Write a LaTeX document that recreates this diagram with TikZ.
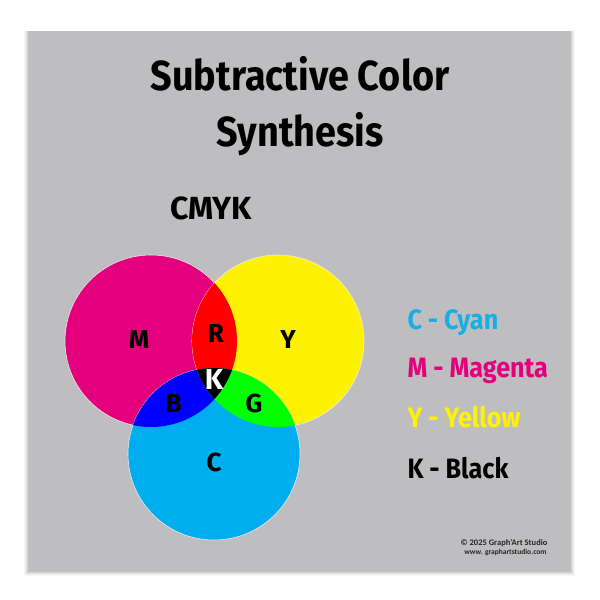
\documentclass[tikz,border=0pt]{standalone}
\usepackage{fontspec}
\setmainfont{Fira Sans}
\newfontfamily\narrowfont[FakeStretch=0.9]{Fira Sans}
\newfontfamily\creditfont{Carlito}
\definecolor{panelgray}{HTML}{BEBEC1}
\definecolor{inkmagenta}{HTML}{E4007C}
\definecolor{inkyellow}{HTML}{FFF200}
\definecolor{inkcyan}{HTML}{00AEEF}
\definecolor{textcyan}{HTML}{1AADE4}
\definecolor{mixred}{HTML}{FF0000}
\definecolor{mixgreen}{HTML}{00FF00}
\definecolor{mixblue}{HTML}{0000FF}
\tikzset{
  heading/.style={anchor=base, font=\narrowfont\fontsize{42}{42}\selectfont\bfseries},
  letter/.style={font=\fontsize{26}{26}\selectfont\bfseries},
  legend/.style={anchor=base west, font=\narrowfont\fontsize{28}{28}\selectfont\bfseries},
  credit/.style={anchor=base east, font=\creditfont\fontsize{8.5}{8.5}\selectfont\bfseries, text=black!85},
  ink/.style={draw=white!70!panelgray, line width=0.6pt},
}
\begin{document}
\begin{tikzpicture}[x=1pt,y=-1pt]
  \useasboundingbox (0,0) rectangle (600,600);
  \fill[white] (0,0) rectangle (600,600);
  % soft shadow under the panel
  \foreach \s/\o in {5/0.03,4/0.04,3/0.05,2/0.06,1/0.08}
    \fill[black,opacity=\o] (29-\s,31) rectangle (570+\s,571+\s);
  \fill[panelgray] (29,31) rectangle (570,571);
  % heading
  \node[heading] (title1) at (300,90) {Subtractive Color};
  \node[heading] (title2) at (300,146) {Synthesis};
  \node[heading, font=\fontsize{32}{32}\selectfont\bfseries] (cmyk) at (211,219) {CMYK};
  % the three inks
  \def\rad{86}
  \coordinate (cm) at (151,341);
  \coordinate (cy) at (278,341);
  \coordinate (cc) at (214,454);
  \fill[inkmagenta, ink] (cm) circle[radius=\rad];
  \fill[inkyellow, ink] (cy) circle[radius=\rad];
  \fill[inkcyan, ink] (cc) circle[radius=\rad];
  \begin{scope}
    \clip (cm) circle[radius=\rad];
    \fill[mixred] (cy) circle[radius=\rad];
    \fill[mixblue] (cc) circle[radius=\rad];
  \end{scope}
  \begin{scope}
    \clip (cy) circle[radius=\rad];
    \fill[mixgreen] (cc) circle[radius=\rad];
    \clip (cm) circle[radius=\rad];
    \fill[black] (cc) circle[radius=\rad];
  \end{scope}
  % letters
  \node[letter] (m) at (139,339) {M};
  \node[letter] (r) at (216,333) {R};
  \node[letter] (y) at (288,339) {Y};
  \node[letter, text=white, font=\fontsize{29}{29}\selectfont\bfseries] (k) at (214,379) {K};
  \node[letter] (b) at (174,403) {B};
  \node[letter] (g) at (254,403) {G};
  \node[letter] (c) at (214,462) {C};
  % legend
  \node[legend, text=textcyan] (lc) at (404,329) {C - Cyan};
  \node[legend, text=inkmagenta] (lm) at (404,377) {M - Magenta};
  \node[legend, text=inkyellow] (ly) at (404,427) {Y - Yellow};
  \node[legend, text=black] (lk) at (404,478) {K - Black};
  % credit
  \node[credit] (cr1) at (551,545) {\textcopyright{} 2025 Graph'Art Studio};
  \node[credit, font=\creditfont\fontsize{7.5}{7.5}\selectfont\bfseries] (cr2) at (550,554) {www. graphartstudio.com};
\end{tikzpicture}
\end{document}
